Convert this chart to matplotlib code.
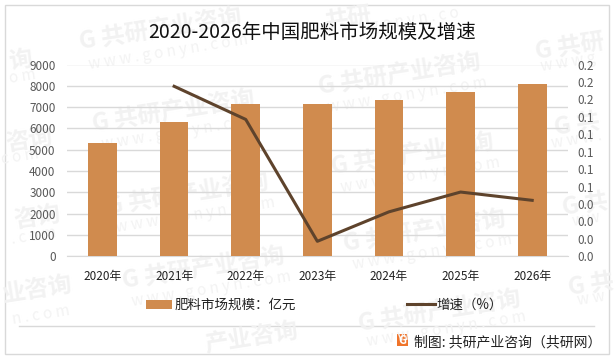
"""Fertilizer market size and growth, 2020-2026"""

import matplotlib
matplotlib.use("Agg")
import matplotlib.pyplot as plt
from matplotlib.patches import Rectangle

W, H = 615, 359

YEARS = ["2020年", "2021年", "2022年", "2023年", "2024年", "2025年", "2026年"]
SIZE = [5316, 6302, 7146, 7146, 7334, 7709, 8085]
GROWTH_YEARS = [1, 2, 3, 4, 5, 6]
GROWTH = [0.195, 0.157, 0.0172, 0.051, 0.0737, 0.0642]
LEFT_TICKS = [0, 1000, 2000, 3000, 4000, 5000, 6000, 7000, 8000, 9000]
RIGHT_TICKS = [0.0, 0.02, 0.04, 0.06, 0.08, 0.10, 0.12, 0.14, 0.16, 0.18, 0.20, 0.22]
RIGHT_LABELS = ["0.0", "0.0", "0.0", "0.0", "0.1", "0.1", "0.1", "0.1", "0.1", "0.2", "0.2", "0.2"]

# watermark pieces, pixel positions of their centres
MARK = "G 共研产业咨询"
SITE = "w w w . g o n y n . c o m"
MARKS = [(MARK, 161, 30), ("共研", 349, 19), (MARK, 174, 112), (MARK, 400, 75),
         (MARK, 188, 195), (MARK, 413, 155), (MARK, 204, 269), (MARK, 425, 232),
         ("产业咨询", 252, 338), (MARK, 440, 312),
         ("G 共研", 570, 47), ("G 共", 577, 125), ("G 共", 585, 205), ("G 共", 591, 285),
         ("询", 20, 60), ("咨询", 29, 140), ("咨询", 37, 217), ("业咨询", 37, 290)]
SITES = [(SITE, 168, 52), ("g o n y n . c o", 415, 20), (SITE, 181, 132), (SITE, 407, 95),
         (SITE, 195, 215), (SITE, 420, 175), (SITE, 211, 289), (SITE, 432, 252), (SITE, 446, 329),
         ("w w w g", 568, 62), ("w w w .", 577, 140), ("w w", 586, 219), ("w w", 591, 298),
         ("o m", 23, 76), ("c o m", 20, 157), (". c o m", 34, 236), ("n . c o m", 41, 315)]

BAR_COLOR = "#D08B4E"
LINE_COLOR = "#5E432C"
GRID_COLOR = "#D9D9D9"

plt.rcParams["font.family"] = ["Noto Sans CJK SC", "DejaVu Sans"]

fig = plt.figure(figsize=(W / 100, H / 100), dpi=100)

# background layer in pixel coordinates: frame, watermarks, footer
bg = fig.add_axes([0, 0, 1, 1], zorder=0)
bg.set_xlim(0, W)
bg.set_ylim(H, 0)
bg.axis("off")
bg.add_patch(Rectangle((4.5, 4.5), 604, 349, fill=False, ec=GRID_COLOR, lw=1))
for s, x, y in MARKS:
    bg.text(x, y, s, color="#F2F2F2", fontsize=17, fontweight="bold",
            rotation=9, ha="center", va="center", rotation_mode="anchor")
for s, x, y in SITES:
    bg.text(x, y, s, color="#F3F3F3", fontsize=11,
            rotation=9, ha="center", va="center", rotation_mode="anchor")

bg.plot([19, 594], [325.5, 325.5], color=GRID_COLOR, lw=1)
bg.text(312.5, 32, "2020-2026年中国肥料市场规模及增速", fontsize=14, color="#111111",
        ha="center", va="center")
bg.add_patch(Rectangle((397, 334), 11, 12, color="#F0742A", lw=0))
bg.text(402.5, 340, "G", color="white", fontsize=8, fontweight="bold", ha="center", va="center")
bg.text(414, 342, "制图: 共研产业咨询（共研网）", fontsize=10, color="#222222", va="center")

ax = fig.add_axes([66.7 / W, 1 - 256.3 / H, 501.3 / W, 191.8 / H], zorder=1)
ax.patch.set_alpha(0)
x = list(range(len(YEARS)))
bars = ax.bar(x, SIZE, width=0.4, color=BAR_COLOR, zorder=3, label="肥料市场规模：亿元")
ax.set_xlim(-0.5, 6.5)
ax.set_ylim(0, 9000)
ax.set_yticks(LEFT_TICKS)
ax.set_xticks(x)
ax.set_xticklabels(YEARS, fontsize=8.5, color="#222222")
ax.tick_params(axis="y", length=0, pad=8, labelsize=8.5, labelcolor="#595959")
ax.tick_params(axis="x", length=0, pad=10)
ax.grid(axis="y", color=GRID_COLOR, lw=1, zorder=0)
ax.set_axisbelow(True)
for s in ["top", "left", "right"]:
    ax.spines[s].set_visible(False)
ax.spines["bottom"].set_color(GRID_COLOR)

ax2 = ax.twinx()
ax2.patch.set_alpha(0)
line, = ax2.plot(GROWTH_YEARS, GROWTH, color=LINE_COLOR, lw=2.2, zorder=4, label="增速（%）")
ax2.set_ylim(0, 0.22)
ax2.set_yticks(RIGHT_TICKS)
ax2.set_yticklabels(RIGHT_LABELS)
ax2.tick_params(axis="y", length=0, pad=7, labelsize=8.5, labelcolor="#595959")
for s in ax2.spines.values():
    s.set_visible(False)

fig.legend(handles=[bars], loc="center left", bbox_to_anchor=(144 / W, 1 - 305 / H),
           frameon=False, fontsize=9.7, handlelength=1.95, handleheight=0.6, handletextpad=0.15,
           labelcolor="#222222", borderpad=0.15, borderaxespad=0)
fig.legend(handles=[line], loc="center left", bbox_to_anchor=(405 / W, 1 - 305 / H),
           frameon=False, fontsize=9.7, handlelength=2.05, handletextpad=0.15,
           labelcolor="#222222", borderpad=0.15, borderaxespad=0)

plt.savefig("out.png", dpi=100)
